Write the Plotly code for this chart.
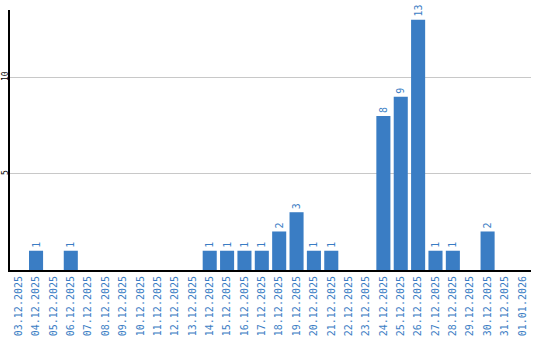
import plotly.graph_objects as go

dates = ["03.12.2025", "04.12.2025", "05.12.2025", "06.12.2025", "07.12.2025",
         "08.12.2025", "09.12.2025", "10.12.2025", "11.12.2025", "12.12.2025",
         "13.12.2025", "14.12.2025", "15.12.2025", "16.12.2025", "17.12.2025",
         "18.12.2025", "19.12.2025", "20.12.2025", "21.12.2025", "22.12.2025",
         "23.12.2025", "24.12.2025", "25.12.2025", "26.12.2025", "27.12.2025",
         "28.12.2025", "29.12.2025", "30.12.2025", "31.12.2025", "01.01.2026"]
counts = [0, 1, 0, 1, 0, 0, 0, 0, 0, 0,
          0, 1, 1, 1, 1, 2, 3, 1, 1, 0,
          0, 8, 9, 13, 1, 1, 0, 2, 0, 0]
labels = [str(v) if v else "" for v in counts]

blue = "#3a7dc4"
mono = "DejaVu Sans Mono"

fig = go.Figure(go.Bar(
    x=dates, y=counts, text=labels, textposition="outside", textangle=-90,
    textfont=dict(family=mono, size=10, color=blue),
    marker=dict(color=blue, line=dict(width=0)), cliponaxis=False,
))
fig.update_layout(
    width=540, height=340, margin=dict(l=10, r=9, t=10, b=70),
    paper_bgcolor="white", plot_bgcolor="white", bargap=0.19, showlegend=False,
    xaxis=dict(type="category", tickangle=-90, tickfont=dict(family=mono, size=10, color=blue),
               showline=True, linecolor="black", linewidth=2, ticks="", showgrid=False,
               automargin=False),
    yaxis=dict(range=[0, 13.5], tickvals=[5, 10], tickangle=-90,
               tickfont=dict(family=mono, size=8, color="black"),
               showline=True, linecolor="black", linewidth=2, ticks="",
               showgrid=True, gridcolor="#c8c8c8", gridwidth=1, zeroline=False,
               automargin=False, ticklabelstandoff=-3),
)
fig.write_html("out.html")
